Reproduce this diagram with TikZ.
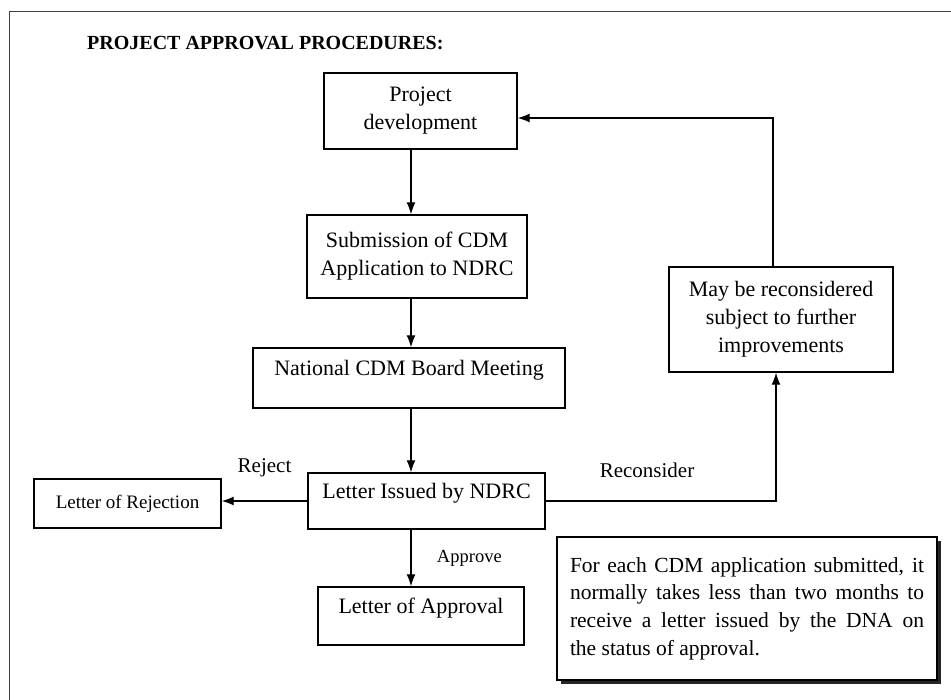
\documentclass[tikz,border=0pt]{standalone}
\usepackage{fontspec}
\setmainfont{Liberation Serif}
\usetikzlibrary{arrows.meta,shadows}

\begin{document}
\begin{tikzpicture}[x=1pt, y=-1pt,
    box/.style={draw, line width=1.4pt, align=center, inner sep=2pt, font=\fontsize{22}{28}\selectfont},
    upper/.style={text depth=21pt},
    arr/.style={line width=1.3pt, -{Latex[length=12pt,width=9pt]}},
    lbl/.style={font=\fontsize{21}{24}\selectfont}]
    \useasboundingbox (0,0) rectangle (951,700);
    \draw[line width=0.9pt, black!75] (9,700) -- (9,11) -- (951,11);
    \node[font=\fontsize{20}{24}\selectfont\bfseries, anchor=west, inner sep=0pt] (title) at (87,43) {PROJECT APPROVAL PROCEDURES:};

    \node[box, minimum width=193pt, minimum height=76pt] (proj) at (420.5,111) {Project\\development};
    \node[box, minimum width=220pt, minimum height=83pt] (sub) at (417,256.5) {Submission of CDM\\Application to NDRC};
    \node[box, upper, minimum width=312pt, minimum height=60pt] (board) at (409,378) {National CDM Board Meeting};
    \node[box, upper, minimum width=237pt, minimum height=56pt] (issued) at (426.5,501) {Letter Issued by NDRC};
    \node[box, minimum width=187pt, minimum height=49pt, font=\fontsize{19}{24}\selectfont] (reject) at (127.5,503.5) {Letter of Rejection};
    \node[box, upper, minimum width=206pt, minimum height=58pt] (approval) at (421,616) {Letter of Approval};
    \node[box, minimum width=224pt, minimum height=105pt] (recon) at (781,319.5) {May be reconsidered\\subject to further\\improvements};
    \node[draw, line width=1.4pt, fill=white, drop shadow={shadow xshift=3.5pt, shadow yshift=-3.5pt, fill=black!85, opacity=1},
        text width=354pt, align=justify, inner xsep=13pt, minimum height=143pt, font=\fontsize{21.5}{27.7}\selectfont] (note) at (747,608.5)
        {For each CDM application submitted, it\linebreak normally takes less than two months to\linebreak receive a letter issued by the DNA on\linebreak the status of approval.};

    \coordinate (spine) at (411,0);
    \draw[arr] (proj.south -| spine) -- (sub.north -| spine);
    \draw[arr] (sub.south -| spine) -- (board.north -| spine);
    \draw[arr] (board.south -| spine) -- (issued.north -| spine);
    \draw[arr] (issued.west) -- node[lbl, yshift=33pt] {Reject} (issued.west -| reject.east);
    \draw[arr] (issued.south -| spine) -- node[lbl, font=\fontsize{18.5}{22}\selectfont, right=22pt] {Approve} (approval.north -| spine);
    \draw[arr] (issued.east) -| node[lbl, pos=0.22, yshift=31pt] {Reconsider} ([xshift=-5pt]recon.south);
    \draw[arr] ([xshift=-8pt]recon.north) |- ([yshift=-7pt]proj.east);
\end{tikzpicture}
\end{document}
